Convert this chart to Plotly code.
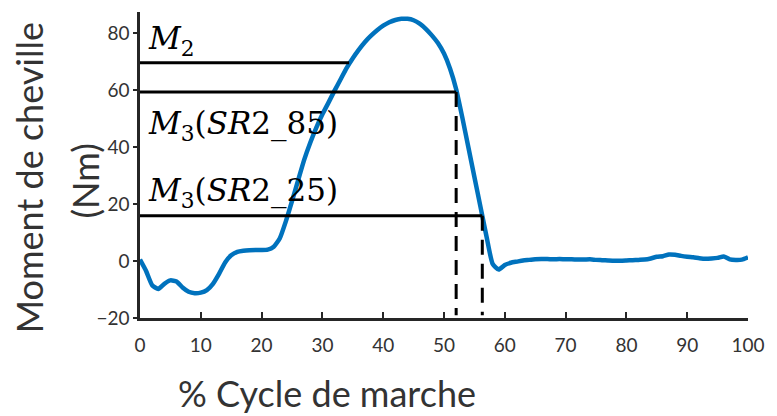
import plotly.graph_objects as go

# Gait cycle (%) and ankle moment (Nm)
cycle_pct = list(range(0, 101))
ankle_moment = [
    0.5, -3.5, -8.5, -9.8, -8.0, -6.8, -7.2, -9.3, -10.8, -11.3,
    -11.1, -10.2, -8.0, -4.5, -0.5, 2.0, 3.2, 3.6, 3.8, 3.9,
    3.9, 4.0, 5.0, 8.0, 14.0, 21.0, 28.3, 35.5, 41.5, 46.8,
    51.5, 55.6, 59.8, 63.8, 67.8, 71.2, 74.2, 76.9, 79.1, 81.0,
    82.6, 83.8, 84.6, 85.0, 85.0, 84.5, 83.3, 81.5, 79.2, 76.5,
    72.8, 67.5, 60.3, 50.5, 40.0, 29.5, 19.0, 8.5, -1.0, -3.0,
    -1.4, -0.6, -0.2, 0.2, 0.4, 0.6, 0.7, 0.7, 0.6, 0.7,
    0.6, 0.6, 0.5, 0.5, 0.6, 0.4, 0.3, 0.2, 0.1, 0.1,
    0.2, 0.3, 0.4, 0.5, 0.9, 1.5, 1.7, 2.3, 2.2, 1.8,
    1.5, 1.3, 1.0, 0.8, 0.9, 1.1, 1.6, 0.6, 0.4, 0.5, 1.3,
]

# Reference moment levels and the cycle % where the curve reaches them
m2_level, m2_end = 69.6, 34.4
m3_85_level, m3_85_end = 59.3, 52.0
m3_25_level, m3_25_end = 15.9, 56.3

x_ticks = [0, 10, 20, 30, 40, 50, 60, 70, 80, 90, 100]
y_ticks = [-20, 0, 20, 40, 60, 80]
y_min, y_max = -20, 87.4

fig = go.Figure()

fig.add_trace(go.Scatter(
    x=cycle_pct, y=ankle_moment, mode="lines",
    line=dict(color="#0072BD", width=4.5, shape="spline", smoothing=0.5),
    showlegend=False, hoverinfo="skip",
))

# Horizontal reference levels
for level, end in [(m2_level, m2_end), (m3_85_level, m3_85_end), (m3_25_level, m3_25_end)]:
    fig.add_trace(go.Scatter(
        x=[0, end], y=[level, level], mode="lines",
        line=dict(color="black", width=3), showlegend=False, hoverinfo="skip",
    ))

# Dashed drop lines to the x axis
for level, end in [(m3_85_level, m3_85_end), (m3_25_level, m3_25_end)]:
    fig.add_trace(go.Scatter(
        x=[end, end], y=[level, y_min + 1.0], mode="lines",
        line=dict(color="black", width=3, dash="15px,9px"),
        showlegend=False, hoverinfo="skip",
    ))

label_font = dict(family="DejaVu Serif", size=31, color="black")
for text, yv in [
    ("<i>M</i><sub>2</sub>", 77.4),
    ("<i>M</i><sub>3</sub>(<i>SR</i>2_85)", 47.7),
    ("<i>M</i><sub>3</sub>(<i>SR</i>2_25)", 24.2),
]:
    fig.add_annotation(x=1.0, y=yv, xref="x", yref="y", text=text,
                       showarrow=False, xanchor="left", yanchor="middle",
                       font=label_font)

title_font = dict(family="Lato", size=36, color="#333333")
fig.add_annotation(x=0.308, y=-0.244, xref="paper", yref="paper",
                   text="% Cycle de marche", showarrow=False,
                   xanchor="center", yanchor="middle", font=title_font)
fig.add_annotation(x=-0.182, y=0.4575, xref="paper", yref="paper",
                   text="Moment de cheville", textangle=-90, showarrow=False,
                   xanchor="center", yanchor="middle", font=title_font)
fig.add_annotation(x=-0.091, y=0.448, xref="paper", yref="paper",
                   text="(Nm)", textangle=-90, showarrow=False,
                   xanchor="center", yanchor="middle", font=title_font)

tick_font = dict(family="Lato", size=19, color="#333333")
fig.update_xaxes(
    range=[0, 100], tickvals=x_ticks, ticks="inside", ticklen=6, tickwidth=2,
    tickcolor="#262626", showline=True, linecolor="#262626", linewidth=2.5,
    showgrid=False, zeroline=False, tickfont=tick_font, ticklabelstandoff=8,
)
fig.update_yaxes(
    range=[y_min, y_max], tickvals=y_ticks, ticks="outside", ticklen=4, tickwidth=2,
    tickcolor="#262626", showline=True, linecolor="#262626", linewidth=2.5,
    showgrid=False, zeroline=False, tickfont=tick_font,
)

fig.update_layout(
    width=777, height=416,
    margin=dict(l=140, r=23, t=12, b=98),
    paper_bgcolor="white", plot_bgcolor="white",
)

fig.write_html("out.html")
